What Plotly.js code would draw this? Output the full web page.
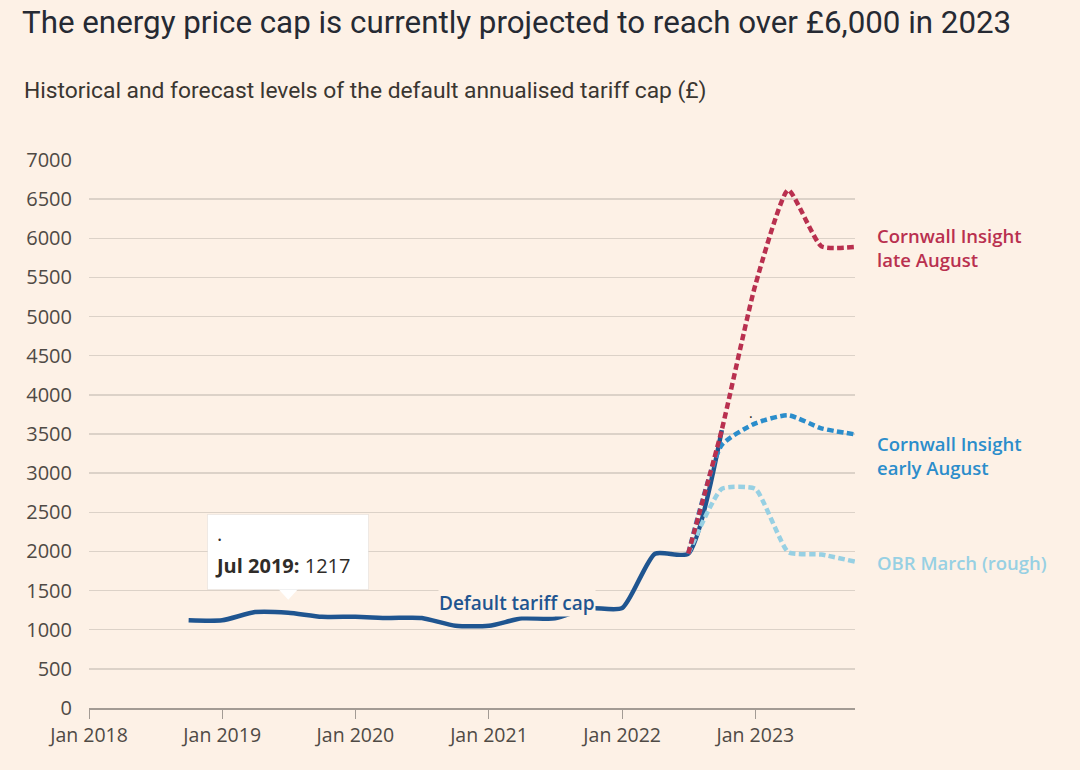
<!DOCTYPE html>
<html>
<head>
<meta charset="utf-8">
<script src="https://cdn.plot.ly/plotly-3.0.1.min.js"></script>
<style>
  html, body { margin: 0; padding: 0; background: #fdf1e6; }
  #chart { width: 1080px; height: 770px; }
</style>
</head>
<body>
<div id="chart"></div>
<script>
// ---- Data ----
const defaultDates = ['2018-10-01','2019-01-01','2019-04-01','2019-07-01','2019-10-01','2020-01-01','2020-04-01','2020-07-01','2020-10-01','2021-01-01','2021-04-01','2021-07-01','2021-10-01','2022-01-01','2022-04-01','2022-07-01','2022-10-01'];
const defaultCap = [1120,1120,1225,1217,1165,1165,1150,1150,1050,1050,1145,1145,1277,1277,1971,1971,3549];

const forecastDates = ['2022-07-01','2022-10-01','2023-01-01','2023-04-01','2023-07-01','2023-10-01'];
const cornwallLate = [1971,3554,5405,6616,5897,5890];
const cornwallEarly = [1971,3360,3636,3740,3572,3495];
const obrMarch = [1971,2800,2800,1990,1960,1870];

const tickLabelsX = ['Jan 2018','Jan 2019','Jan 2020','Jan 2021','Jan 2022','Jan 2023'];
const tickDatesX = ['2018-01-01','2019-01-01','2020-01-01','2021-01-01','2022-01-01','2023-01-01'];

const tooltipDate = '2019-07-01';
const tooltipValue = 1217;

// ---- Styles ----
const BG = '#fdf1e6';
const C_DEF = '#1f5590';
const C_LATE = '#b9304f';
const C_EARLY = '#2b8dcb';
const C_OBR = '#97d0e3';
const FONT = '"Open Sans", Lato, sans-serif';
const LFONT = '"Open Sans", Lato, sans-serif';
const DASH = '6.5px,3.5px';
const LX = (875-89)/766;

function label(text, y, color) {
  return {xref: 'paper', yref: 'y', x: LX, y: y, xanchor: 'left', yanchor: 'middle',
          showarrow: false, align: 'left', text: text,
          font: {family: LFONT, size: 18.5, weight: 600, color: color}};
}

const traces = [
  {x: defaultDates, y: defaultCap, mode: 'lines', name: 'Default tariff cap',
   line: {color: C_DEF, width: 4.5, shape: 'spline', smoothing: 0.6}},
  {x: forecastDates, y: obrMarch, mode: 'lines', name: 'OBR March (rough)',
   line: {color: C_OBR, width: 4.5, shape: 'spline', smoothing: 0.45, dash: DASH}},
  {x: forecastDates, y: cornwallEarly, mode: 'lines', name: 'Cornwall Insight early August',
   line: {color: C_EARLY, width: 4.5, shape: 'spline', smoothing: 0.55, dash: DASH}},
  {x: forecastDates, y: cornwallLate, mode: 'lines', name: 'Cornwall Insight late August',
   line: {color: C_LATE, width: 4.5, shape: 'spline', smoothing: 0.5, dash: DASH}}
];

const layout = {
  width: 1080, height: 770,
  paper_bgcolor: BG, plot_bgcolor: BG,
  margin: {l: 89, r: 225, t: 160, b: 62},
  showlegend: false,
  font: {family: FONT, color: '#4a4540'},
  title: {
    text: 'The energy price cap is currently projected to reach over £6,000 in 2023',
    font: {family: 'Roboto, sans-serif', size: 31.3, color: '#262a33'},
    x: 22/1080, xref: 'container', xanchor: 'left',
    y: 1 - 22/770, yref: 'container', yanchor: 'middle'
  },
  xaxis: {
    type: 'date',
    range: ['2018-01-01', '2023-10-01'],
    tickvals: tickDatesX, ticktext: tickLabelsX,
    showgrid: false, zeroline: false,
    showline: true, linecolor: '#a39b94', linewidth: 1.5,
    ticks: 'outside', ticklen: 9, tickcolor: '#a39b94', tickwidth: 1,
    tickfont: {size: 19.5, color: '#4f4a45', family: FONT},
    fixedrange: true
  },
  yaxis: {
    range: [0, 7000], dtick: 500, tick0: 0,
    showgrid: true, gridcolor: '#dcd2c8', gridwidth: 1.5,
    zeroline: false, showline: false,
    ticks: '', ticklabelstandoff: 16,
    tickfont: {size: 20, color: '#4f4a45', family: FONT},
    fixedrange: true
  },
  annotations: [
    {xref: 'paper', yref: 'paper', x: (22-89)/766, y: (708-91)/548,
     xanchor: 'left', yanchor: 'middle', showarrow: false,
     text: 'Historical and forecast levels of the default annualised tariff cap (£)',
     font: {family: 'Roboto, sans-serif', size: 22.8, color: '#3a3631'}},
    label('Cornwall Insight<br>late August', 5880, C_LATE),
    label('Cornwall Insight<br>early August', 3224, C_EARLY),
    label('OBR March (rough)', 1865, C_OBR),
    {xref: 'x', yref: 'y', x: '2021-03-20', y: 1345, xanchor: 'center', yanchor: 'middle',
     showarrow: false, text: 'Default tariff cap', bgcolor: BG, borderpad: 0,
     font: {family: LFONT, size: 19, weight: 600, color: C_DEF}},
    // tooltip
    {xref: 'x', yref: 'y', x: tooltipDate, y: tooltipValue,
     showarrow: true, arrowcolor: 'rgba(0,0,0,0)', arrowwidth: 0.1, arrowhead: 0,
     ax: 0, ay: -61, width: 146, height: 60, borderpad: 7,
     bgcolor: '#ffffff', bordercolor: 'rgba(0,0,0,0.06)', borderwidth: 1,
     align: 'left', valign: 'middle',
     text: '·<br><b>Jul 2019:</b> ' + tooltipValue,
     font: {family: LFONT, size: 20, color: '#2f2c29'}},
    {xref: 'x', yref: 'y', x: '2022-12-20', y: 3720, showarrow: false,
     text: '·', font: {size: 14, color: '#222'}}
  ],
  shapes: [
    {type: 'path', xref: 'x', yref: 'y', xsizemode: 'pixel', ysizemode: 'pixel',
     xanchor: tooltipDate, yanchor: tooltipValue,
     path: 'M -11 25 L 11 25 L 0 13 Z',
     fillcolor: '#ffffff', line: {width: 0}, layer: 'above'}
  ]
};

Plotly.newPlot('chart', traces, layout, {staticPlot: true, displayModeBar: false});
</script>
</body>
</html>
